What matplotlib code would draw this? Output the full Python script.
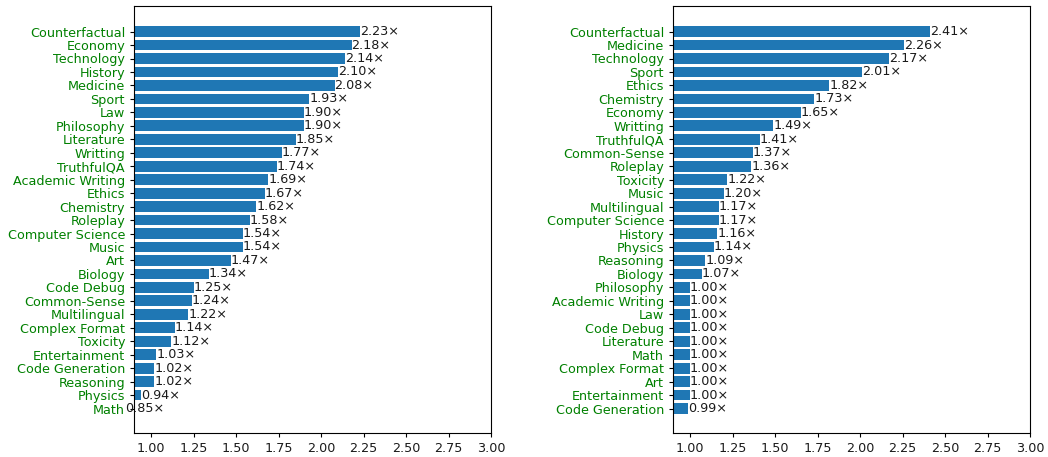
import matplotlib
matplotlib.use("Agg")
import matplotlib.pyplot as plt

left_cats = ["Counterfactual", "Economy", "Technology", "History", "Medicine", "Sport",
             "Law", "Philosophy", "Literature", "Writting", "TruthfulQA", "Academic Writing",
             "Ethics", "Chemistry", "Roleplay", "Computer Science", "Music", "Art", "Biology",
             "Code Debug", "Common-Sense", "Multilingual", "Complex Format", "Toxicity",
             "Entertainment", "Code Generation", "Reasoning", "Physics", "Math"]
left_vals = [2.23, 2.18, 2.14, 2.10, 2.08, 1.93, 1.90, 1.90, 1.85, 1.77, 1.74, 1.69,
             1.67, 1.62, 1.58, 1.54, 1.54, 1.47, 1.34, 1.25, 1.24, 1.22, 1.14, 1.12,
             1.03, 1.02, 1.02, 0.94, 0.85]

right_cats = ["Counterfactual", "Medicine", "Technology", "Sport", "Ethics", "Chemistry",
              "Economy", "Writting", "TruthfulQA", "Common-Sense", "Roleplay", "Toxicity",
              "Music", "Multilingual", "Computer Science", "History", "Physics", "Reasoning",
              "Biology", "Philosophy", "Academic Writing", "Law", "Code Debug", "Literature",
              "Math", "Complex Format", "Art", "Entertainment", "Code Generation"]
right_vals = [2.41, 2.26, 2.17, 2.01, 1.82, 1.73, 1.65, 1.49, 1.41, 1.37, 1.36, 1.22,
              1.20, 1.17, 1.17, 1.16, 1.14, 1.09, 1.07, 1.00, 1.00, 1.00, 1.00, 1.00,
              1.00, 1.00, 1.00, 1.00, 0.99]

xticks = [1.00, 1.25, 1.50, 1.75, 2.00, 2.25, 2.50, 2.75, 3.00]

FS = 9.2


def paint(ax, cats, vals):
    n = len(cats)
    pos = [n - 1 - i for i in range(n)]
    ax.barh(pos, vals, height=0.8, color="#1f77b4")
    for p, v in zip(pos, vals):
        ax.text(v, p, "%.2f\u00d7" % v, ha="left", va="center", fontsize=FS, color="#1a1a1a")
    ax.set_yticks(pos)
    ax.set_yticklabels(cats, color="green", fontsize=FS)
    ax.set_xticks(xticks)
    ax.set_xticklabels(["%.2f" % t for t in xticks], fontsize=FS, color="#1a1a1a")
    ax.tick_params(length=3.2, width=0.8, pad=3.2)
    ax.set_xlim(0.9, 3.0)
    ax.set_ylim(-1.82, n - 1 + 1.9)


fig = plt.figure(figsize=(10.48, 4.57), dpi=100)
ax1 = fig.add_axes([134 / 1048, 1 - 433 / 457, 357 / 1048, 427 / 457])
ax2 = fig.add_axes([673 / 1048, 1 - 433 / 457, 357 / 1048, 427 / 457])
paint(ax1, left_cats, left_vals)
paint(ax2, right_cats, right_vals)

plt.savefig("out.png", dpi=100)
